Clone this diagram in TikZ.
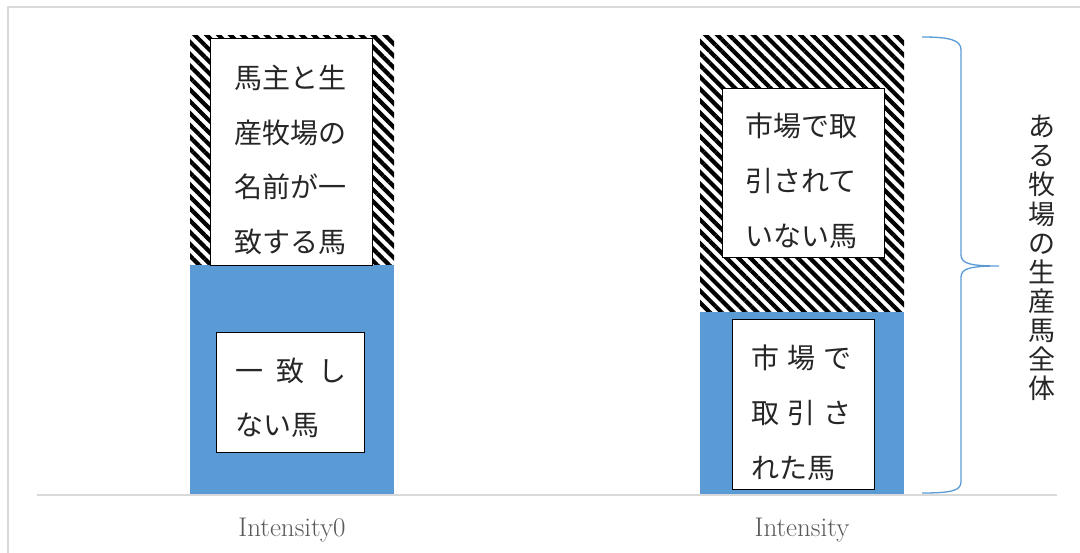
\documentclass[tikz,border=0pt]{standalone}
\usepackage{fontspec}
\newfontfamily\jp{Noto Sans CJK JP}
\usetikzlibrary{patterns.meta}
\definecolor{barblue}{HTML}{5B9BD5}
\definecolor{axisgray}{HTML}{D9D9D9}
\definecolor{labelgray}{HTML}{595959}
\definecolor{jpink}{HTML}{262626}
\tikzset{
  hatchfill/.style={pattern={Lines[angle=-45,distance=8.4pt,line width=4.2pt]}, pattern color=black},
  bluefill/.style={fill=barblue},
  lblbox/.style={draw=black, line width=0.9pt, fill=white, inner sep=0pt, anchor=north west},
  jptext/.style={font=\jp\fontsize{28}{54.7}\selectfont, align=left, inner sep=0pt, text=jpink},
  vtext/.style={font=\jp\fontsize{27}{29.1}\selectfont, align=center, inner sep=0pt, text=jpink},
  axlabel/.style={font=\fontsize{27}{32}\selectfont, text=labelgray, anchor=base, inner sep=0pt},
  gridline/.style={axisgray, line width=1.5pt},
  bracestyle/.style={barblue, line width=1.3pt}
}
\begin{document}
\begin{tikzpicture}[x=1pt,y=-1pt]
\useasboundingbox (0,0) rectangle (1080,553);
% outer frame
\draw[gridline] (8,553) -- (8,7) -- (1080,7);
% bar 1
\path[hatchfill] (190,36) rectangle (394,265);
\path[bluefill] (190,265) rectangle (394,494);
% bar 2
\path[hatchfill] (700,36) rectangle (904,312);
\path[bluefill] (700,312) rectangle (904,494);
% baseline
\draw[gridline] (37,495) -- (1057,495);
% label boxes
\node[lblbox, minimum width=162pt, minimum height=227pt] (b1) at (210,38) {};
\node[lblbox, minimum width=148pt, minimum height=120pt] (b2) at (216,332) {};
\node[lblbox, minimum width=162pt, minimum height=169pt] (b3) at (722,88) {};
\node[lblbox, minimum width=142pt, minimum height=170pt] (b4) at (732,319) {};
% texts
\node[jptext] (t1) at (290,160) {馬主と生\\産牧場の\\名前が一\\致する馬};
\node[jptext, anchor=west] (t2) at (235,398) {一\hspace{13.5pt}致\hspace{13.5pt}し\\ない馬};
\node[jptext] (t3) at (801.5,181) {市場で取\\引されて\\いない馬};
\node[jptext, anchor=west] (t4) at (751,413) {市\hspace{8pt}場\hspace{8pt}で\\取\hspace{8pt}引\hspace{8pt}さ\\れた馬};
% axis labels
\node[axlabel] (l1) at (292,536) {Intensity0};
\node[axlabel] (l2) at (802,536) {Intensity};
% brace
\draw[bracestyle] (922,37) .. controls (950,37) and (961,40) .. (961,50) -- (961,255)
  .. controls (961,264) and (972,266) .. (999,266)
  .. controls (972,266) and (961,268) .. (961,277) -- (961,482)
  .. controls (961,491) and (950,493) .. (922,493);
% vertical text
\node[vtext] (v) at (1042,258) {あ\\る\\牧\\場\\の\\生\\産\\馬\\全\\体};
\end{tikzpicture}
\end{document}
